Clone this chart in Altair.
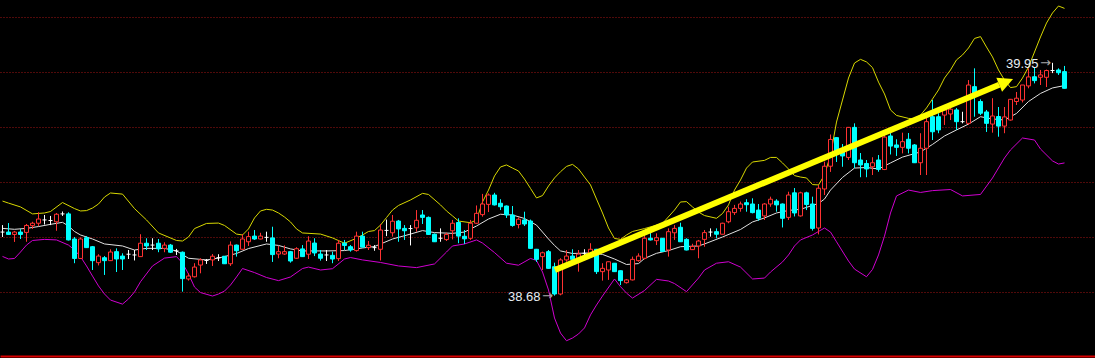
import altair as alt
import pandas as pd

# ---------------- candle data (price units) ----------------
OPEN = [39.027, 39.027, 39.014, 39.027, 39.025, 39.062, 39.075, 39.093, 39.090, 39.083,
        39.126, 39.126, 38.989, 38.883, 38.996, 38.947, 38.860, 38.887, 38.871, 38.920,
        38.896, 38.906, 38.902, 38.893, 38.966, 38.956, 38.966, 38.938, 38.956, 38.924,
        38.917, 38.771, 38.783, 38.847, 38.872, 38.875, 38.887, 38.895, 38.854, 38.956,
        38.933, 38.974, 39.005, 38.989, 38.998, 38.995, 38.907, 38.907, 38.920, 38.884,
        38.935, 38.906, 38.967, 38.907, 38.902, 38.900, 38.882, 38.966, 38.947, 38.926,
        39.005, 38.942, 38.942, 38.933, 39.036, 39.023, 39.087, 39.047, 39.046, 39.050,
        39.120, 39.107, 39.015, 38.993, 38.986, 39.034, 39.079, 39.004, 38.993, 39.075,
        39.122, 39.178, 39.229, 39.184, 39.169, 39.120, 39.068, 39.093, 39.087, 38.933,
        38.893, 38.920, 38.838, 38.689, 38.875, 38.896, 38.884, 38.911, 38.907, 38.933,
        38.811, 38.820, 38.857, 38.816, 38.751, 38.766, 38.871, 38.884, 38.993, 38.980,
        38.993, 38.929, 39.023, 39.053, 38.987, 38.931, 38.951, 38.987, 39.027, 39.029,
        39.015, 39.083, 39.133, 39.156, 39.187, 39.180, 39.147, 39.115, 39.180, 39.196,
        39.180, 39.107, 39.241, 39.115, 39.241, 39.180, 39.049, 39.262, 39.386, 39.542,
        39.467, 39.434, 39.598, 39.420, 39.401, 39.383, 39.420, 39.368, 39.551, 39.502,
        39.489, 39.533, 39.502, 39.405, 39.484, 39.656, 39.656, 39.665, 39.671, 39.693,
        39.629, 39.620, 39.820, 39.739, 39.682, 39.616, 39.657, 39.605, 39.638, 39.739,
        39.747, 39.824, 39.874, 39.871, 39.871, 39.908, 39.911, 39.902]

HIGH = [39.065, 39.076, 39.033, 39.044, 39.071, 39.083, 39.135, 39.120, 39.115, 39.131,
        39.139, 39.135, 39.000, 38.998, 39.005, 38.951, 38.906, 38.896, 38.933, 38.938,
        38.911, 38.929, 38.929, 39.015, 38.993, 38.993, 38.989, 38.971, 38.962, 38.935,
        38.921, 38.802, 38.857, 38.884, 38.880, 38.907, 38.906, 38.896, 38.976, 38.959,
        39.015, 39.029, 39.038, 39.023, 39.029, 39.056, 38.951, 38.954, 38.924, 38.944,
        38.956, 39.004, 38.993, 38.929, 38.929, 38.920, 38.984, 38.984, 38.956, 39.029,
        39.029, 38.978, 38.956, 39.071, 39.095, 39.120, 39.093, 39.065, 39.065, 39.147,
        39.147, 39.112, 39.019, 39.047, 39.023, 39.093, 39.102, 39.038, 39.093, 39.172,
        39.235, 39.238, 39.241, 39.206, 39.172, 39.169, 39.107, 39.138, 39.095, 38.935,
        38.920, 38.929, 38.860, 38.884, 38.929, 38.933, 38.929, 38.933, 38.966, 38.935,
        38.857, 38.866, 38.858, 38.817, 38.771, 38.893, 38.911, 39.038, 39.047, 39.020,
        38.995, 39.047, 39.065, 39.078, 38.993, 38.963, 38.984, 39.038, 39.047, 39.047,
        39.078, 39.165, 39.175, 39.193, 39.206, 39.211, 39.180, 39.185, 39.220, 39.206,
        39.183, 39.247, 39.267, 39.247, 39.247, 39.220, 39.284, 39.411, 39.559, 39.544,
        39.507, 39.600, 39.620, 39.458, 39.420, 39.435, 39.447, 39.573, 39.600, 39.533,
        39.569, 39.567, 39.507, 39.566, 39.656, 39.747, 39.675, 39.720, 39.720, 39.704,
        39.683, 39.856, 39.920, 39.751, 39.693, 39.757, 39.709, 39.709, 39.753, 39.791,
        39.829, 39.920, 39.922, 39.911, 39.913, 39.950, 39.920, 39.933]

LOW = [39.000, 39.011, 38.973, 38.989, 38.974, 39.044, 39.060, 39.068, 39.065, 39.034,
       39.115, 38.981, 38.857, 38.880, 38.940, 38.820, 38.845, 38.793, 38.869, 38.809,
       38.820, 38.880, 38.872, 38.891, 38.929, 38.929, 38.917, 38.917, 38.913, 38.902,
       38.702, 38.762, 38.779, 38.802, 38.853, 38.842, 38.869, 38.853, 38.842, 38.893,
       38.932, 38.951, 38.984, 38.987, 38.974, 38.864, 38.884, 38.902, 38.860, 38.880,
       38.891, 38.880, 38.896, 38.871, 38.869, 38.857, 38.869, 38.929, 38.920, 38.920,
       38.943, 38.929, 38.925, 38.872, 39.005, 39.002, 38.974, 38.984, 38.954, 39.029,
       39.071, 39.011, 38.973, 38.974, 38.978, 38.987, 38.966, 38.962, 38.984, 39.071,
       39.111, 39.136, 39.172, 39.147, 39.104, 39.056, 39.047, 39.060, 38.937, 38.864,
       38.820, 38.828, 38.680, 38.682, 38.865, 38.865, 38.811, 38.893, 38.896, 38.798,
       38.762, 38.766, 38.809, 38.738, 38.746, 38.763, 38.865, 38.878, 38.981, 38.956,
       38.920, 38.893, 38.984, 38.973, 38.927, 38.929, 38.884, 38.947, 39.002, 38.993,
       39.014, 39.075, 39.120, 39.138, 39.138, 39.129, 39.089, 39.093, 39.165, 39.138,
       39.052, 39.093, 39.112, 39.111, 39.147, 39.035, 39.014, 39.229, 39.355, 39.409,
       39.383, 39.420, 39.376, 39.326, 39.326, 39.338, 39.356, 39.365, 39.450, 39.442,
       39.456, 39.456, 39.404, 39.338, 39.338, 39.529, 39.566, 39.611, 39.638, 39.584,
       39.620, 39.611, 39.656, 39.665, 39.573, 39.569, 39.547, 39.566, 39.635, 39.720,
       39.734, 39.811, 39.838, 39.829, 39.818, 39.894, 39.884, 39.810]

CLOSE = [39.027, 39.014, 39.027, 39.014, 39.063, 39.075, 39.098, 39.093, 39.090, 39.124,
         39.126, 38.984, 38.883, 38.989, 38.942, 38.871, 38.896, 38.871, 38.918, 38.880,
         38.880, 38.906, 38.902, 38.966, 38.951, 38.956, 38.935, 38.956, 38.917, 38.924,
         38.773, 38.787, 38.836, 38.875, 38.872, 38.895, 38.887, 38.854, 38.956, 38.925,
         38.989, 39.002, 38.989, 39.005, 38.998, 38.904, 38.920, 38.920, 38.869, 38.936,
         38.893, 38.978, 38.913, 38.884, 38.902, 38.880, 38.966, 38.954, 38.929, 39.005,
         38.945, 38.955, 38.942, 39.038, 39.036, 39.086, 39.044, 39.034, 39.046, 39.091,
         39.107, 39.014, 38.974, 38.993, 39.014, 39.075, 39.005, 38.990, 39.075, 39.129,
         39.180, 39.229, 39.175, 39.165, 39.120, 39.063, 39.097, 39.071, 38.938, 38.878,
         38.914, 38.829, 38.689, 38.875, 38.896, 38.878, 38.907, 38.911, 38.933, 38.811,
         38.829, 38.865, 38.811, 38.762, 38.766, 38.878, 38.896, 38.993, 38.984, 38.996,
         38.921, 39.029, 39.047, 38.974, 38.929, 38.948, 38.978, 39.024, 39.027, 39.015,
         39.075, 39.138, 39.156, 39.180, 39.176, 39.133, 39.102, 39.180, 39.206, 39.175,
         39.102, 39.229, 39.131, 39.241, 39.177, 39.047, 39.266, 39.386, 39.532, 39.467,
         39.442, 39.598, 39.405, 39.393, 39.371, 39.405, 39.369, 39.545, 39.496, 39.489,
         39.520, 39.484, 39.405, 39.484, 39.629, 39.574, 39.584, 39.693, 39.697, 39.629,
         39.629, 39.829, 39.783, 39.675, 39.620, 39.660, 39.605, 39.655, 39.751, 39.757,
         39.829, 39.873, 39.853, 39.884, 39.908, 39.908, 39.896, 39.811]

# ---------------- Bollinger bands (read at candle indexes) ----------------
UPPER_IDX = [0, 1, 3, 5, 7, 8, 10, 12, 13, 14, 15, 16, 17, 18, 20, 22, 24, 26, 29, 30,
             31, 32, 34, 36, 37, 39, 40, 41, 42, 43, 44, 45, 46, 47, 48, 49, 50, 53, 55, 57,
             59, 60, 61, 62, 63, 64, 65, 66, 68, 70, 71, 73, 74, 75, 76, 78, 79, 80, 81, 82,
             83, 84, 85, 86, 87, 88, 89, 90, 91, 92, 93, 94, 95, 96, 97, 98, 99, 100, 101, 102,
             103, 104, 105, 107, 110, 112, 113, 114, 115, 116, 117, 119, 120, 121, 122, 123, 124, 125, 127, 128,
             129, 130, 131, 132, 133, 134, 135, 136, 137, 138, 139, 140, 141, 142, 143, 144, 145, 146, 147, 148,
             149, 151, 152, 153, 154, 155, 156, 157, 158, 159, 160, 161, 162, 163, 164, 165, 166, 167, 168, 169,
             170, 171, 172, 173, 174, 175, 176, 177]
UPPER = [39.196, 39.185, 39.164, 39.126, 39.131, 39.139, 39.188, 39.155, 39.142, 39.144, 39.158, 39.180, 39.218, 39.240, 39.234, 39.155, 39.093, 39.022, 38.981, 38.978,
         39.000, 39.046, 39.074, 39.076, 39.063, 39.016, 39.011, 39.044, 39.104, 39.142, 39.151, 39.147, 39.131, 39.109, 39.082, 39.044, 39.022, 39.016, 38.995, 38.966,
         38.993, 39.011, 39.030, 39.035, 39.065, 39.106, 39.147, 39.172, 39.202, 39.238, 39.232, 39.175, 39.142, 39.115, 39.087, 39.078, 39.093, 39.191, 39.256, 39.333,
         39.382, 39.393, 39.376, 39.360, 39.316, 39.265, 39.213, 39.226, 39.278, 39.322, 39.356, 39.385, 39.396, 39.371, 39.327, 39.284, 39.207, 39.131, 39.049, 38.992,
         38.987, 39.011, 39.030, 39.046, 39.074, 39.147, 39.191, 39.193, 39.164, 39.136, 39.117, 39.102, 39.128, 39.175, 39.256, 39.311, 39.376, 39.409, 39.418, 39.434,
         39.434, 39.404, 39.371, 39.335, 39.327, 39.322, 39.286, 39.284, 39.338, 39.447, 39.627, 39.747, 39.867, 39.949, 39.969, 39.955, 39.924, 39.845, 39.780, 39.693,
         39.663, 39.647, 39.644, 39.665, 39.704, 39.753, 39.802, 39.867, 39.911, 39.966, 39.993, 40.031, 40.083, 40.093, 40.036, 39.982, 39.911, 39.856, 39.815, 39.820,
         39.867, 39.927, 40.009, 40.091, 40.167, 40.222, 40.260, 40.247]

MID_IDX = [0, 2, 4, 6, 8, 10, 11, 12, 13, 15, 17, 20, 22, 24, 27, 29, 31, 34, 36, 39,
           41, 44, 46, 48, 50, 54, 57, 60, 62, 65, 68, 70, 72, 75, 77, 79, 81, 83, 85, 87,
           89, 90, 91, 92, 93, 95, 98, 100, 102, 104, 106, 107, 109, 111, 113, 116, 117, 120, 123, 125,
           127, 129, 131, 133, 136, 137, 138, 140, 142, 144, 146, 148, 150, 153, 155, 157, 159, 161, 163, 165,
           167, 169, 171, 173, 175, 177]
MID = [39.047, 39.042, 39.047, 39.057, 39.069, 39.080, 39.060, 39.030, 39.011, 38.989, 38.962, 38.951, 38.929, 38.938, 38.938, 38.924, 38.884, 38.875, 38.885, 38.910,
       38.937, 38.962, 38.954, 38.935, 38.924, 38.924, 38.926, 38.940, 38.948, 38.989, 39.016, 39.035, 39.024, 39.020, 39.027, 39.060, 39.098, 39.124, 39.120, 39.101,
       39.065, 39.027, 38.989, 38.954, 38.924, 38.910, 38.913, 38.905, 38.880, 38.850, 38.855, 38.883, 38.911, 38.926, 38.947, 38.951, 38.962, 39.000, 39.041, 39.082,
       39.104, 39.131, 39.145, 39.151, 39.183, 39.207, 39.256, 39.325, 39.376, 39.379, 39.371, 39.404, 39.436, 39.464, 39.505, 39.551, 39.584, 39.616, 39.656, 39.644,
       39.638, 39.674, 39.739, 39.783, 39.813, 39.826]

LOWER_IDX = [0, 1, 2, 3, 4, 5, 7, 9, 11, 12, 13, 14, 15, 16, 17, 18, 20, 21, 22, 23,
             25, 27, 29, 30, 31, 32, 33, 35, 36, 37, 38, 39, 40, 42, 44, 46, 48, 50, 51, 53,
             55, 57, 58, 60, 63, 66, 69, 72, 74, 75, 77, 79, 80, 82, 84, 86, 88, 89, 90, 91,
             92, 93, 94, 95, 96, 97, 98, 99, 100, 102, 103, 104, 105, 107, 109, 111, 112, 114, 116, 117,
             119, 121, 123, 125, 127, 128, 130, 131, 132, 133, 135, 137, 138, 139, 141, 142, 144, 145, 146, 147,
             148, 149, 151, 153, 155, 158, 160, 163, 165, 167, 168, 170, 172, 173, 175, 176, 177]
LOWER = [38.894, 38.880, 38.883, 38.918, 38.956, 38.981, 38.987, 38.984, 38.956, 38.929, 38.893, 38.842, 38.787, 38.733, 38.689, 38.656, 38.634, 38.662, 38.700, 38.756,
         38.842, 38.885, 38.893, 38.858, 38.798, 38.727, 38.697, 38.678, 38.689, 38.705, 38.738, 38.782, 38.828, 38.806, 38.779, 38.762, 38.782, 38.828, 38.836, 38.820,
         38.827, 38.880, 38.888, 38.875, 38.861, 38.842, 38.833, 38.853, 38.918, 38.951, 38.962, 38.984, 38.967, 38.915, 38.857, 38.846, 38.883, 38.872, 38.809, 38.711,
         38.558, 38.476, 38.434, 38.449, 38.471, 38.504, 38.575, 38.629, 38.678, 38.771, 38.729, 38.694, 38.667, 38.708, 38.769, 38.760, 38.746, 38.702, 38.776, 38.820,
         38.857, 38.865, 38.836, 38.771, 38.776, 38.809, 38.864, 38.902, 38.951, 38.984, 39.011, 39.049, 39.027, 38.974, 38.869, 38.825, 38.783, 38.823, 38.902, 39.005,
         39.131, 39.224, 39.256, 39.243, 39.253, 39.259, 39.224, 39.232, 39.322, 39.431, 39.475, 39.540, 39.529, 39.480, 39.415, 39.398, 39.404]

GRID = [38.70, 39.00, 39.30, 39.60, 39.90, 40.20]

# annotations: marked extremes and the trend arrow (candle index, price)
MARK_IDX = [92, 175]
MARK_PRICE = [38.68, 39.95]
MARK_TEXT = ["38.68", "39.95"]
ARROW_IDX = [92.08, 166.12]
ARROW_PRICE = [38.820, 39.830]
HEAD_IDX = [167.27]
HEAD_PRICE = [39.846]

assert len(OPEN) == len(HIGH) == len(LOW) == len(CLOSE)
assert len(UPPER_IDX) == len(UPPER)
assert len(MID_IDX) == len(MID)
assert len(LOWER_IDX) == len(LOWER)

RED = "#ff3232"
CYAN = "#00ffff"
WHITE = "#ffffff"

kinds = ["up" if c > o else ("down" if c < o else "flat") for o, c in zip(OPEN, CLOSE)]
candles = pd.DataFrame({"idx": list(range(len(OPEN))), "open": OPEN, "high": HIGH,
                        "low": LOW, "close": CLOSE, "kind": kinds})

XS = alt.Scale(domain=[-2.5 / 6, 1092.5 / 6], nice=False, zero=False)
YS = alt.Scale(domain=[38.3509, 40.2927], nice=False, zero=False)
XAX = alt.Axis(labels=False, ticks=False, grid=False, domainColor="#d80000",
               domainWidth=2, title=None)
YAX = alt.Axis(values=GRID, labels=False, ticks=False, domain=False, grid=True,
               gridColor="#a01414", gridDash=[1, 2], gridWidth=1, title=None)


def X(f):
    return alt.X(f, type="quantitative", scale=XS, axis=XAX)


def Y(f):
    return alt.Y(f, type="quantitative", scale=YS, axis=YAX)


def band(idx, vals, color):
    df = pd.DataFrame({"idx": idx, "v": vals})
    return alt.Chart(df).mark_line(color=color, strokeWidth=1).encode(x=X("idx"), y=Y("v"))


upper = band(UPPER_IDX, UPPER, "#d8d800")
mid = band(MID_IDX, MID, "#e0e0e0")
lower = band(LOWER_IDX, LOWER, "#d000d0")

base = alt.Chart(candles)

wicks = base.mark_rule(strokeWidth=1).encode(
    x=X("idx"), y=Y("low"), y2="high",
    color=alt.Color("kind:N", scale=alt.Scale(domain=["up", "down", "flat"],
                                              range=[RED, CYAN, WHITE]), legend=None),
)

bodies = base.transform_filter("datum.kind != 'flat'").transform_calculate(
    x0="datum.idx - 1/3", x1="datum.idx + 1/3"
).mark_rect(strokeWidth=1).encode(
    x=X("x0:Q"), x2="x1:Q", y=Y("open"), y2="close",
    fill=alt.Fill("kind:N", scale=alt.Scale(domain=["up", "down"], range=["#000000", CYAN]), legend=None),
    stroke=alt.Stroke("kind:N", scale=alt.Scale(domain=["up", "down"], range=[RED, CYAN]), legend=None),
)

doji = base.transform_filter("datum.kind == 'flat'").transform_calculate(
    x0="datum.idx - 1/3", x1="datum.idx + 1/3"
).mark_rule(color=WHITE, strokeWidth=1).encode(x=X("x0:Q"), x2="x1:Q", y=Y("open"))

arrow_df = pd.DataFrame({"idx": ARROW_IDX, "v": ARROW_PRICE})
shaft = alt.Chart(arrow_df).mark_line(color="#ffff00", strokeWidth=6, strokeCap="butt").encode(
    x=X("idx"), y=Y("v"))
head_df = pd.DataFrame({"idx": HEAD_IDX, "v": HEAD_PRICE})
head = alt.Chart(head_df).mark_point(shape="M 1 0 L -1 -1 L -1 1 Z", size=225, angle=337.3,
                                     filled=True, color="#ffff00", opacity=1,
                                     strokeWidth=0).encode(x=X("idx"), y=Y("v"))

marks_df = pd.DataFrame({"idx": MARK_IDX, "v": MARK_PRICE, "t": MARK_TEXT})
mark_text = alt.Chart(marks_df).mark_text(align="right", baseline="middle", dx=-14, dy=1,
                                          fontSize=13, font="Liberation Sans",
                                          color="#e8eef4").encode(x=X("idx"), y=Y("v"), text="t:N")
mark_arrow = alt.Chart(marks_df).mark_text(align="center", baseline="middle", dx=-7, dy=0,
                                           fontSize=13, font="DejaVu Sans",
                                           color="#a8a8a8", text="→").encode(x=X("idx"), y=Y("v"))

chart = alt.layer(upper, mid, lower, wicks, bodies, doji, shaft, head, mark_text, mark_arrow).properties(
    width=1095, height=356,
    padding={"left": 0, "top": 0, "right": 0, "bottom": 2},
    autosize=alt.AutoSizeParams(type="none")
).configure(background="#000000").configure_view(stroke=None)

chart.save("out.html", embed_options={"renderer": "svg", "actions": False})
